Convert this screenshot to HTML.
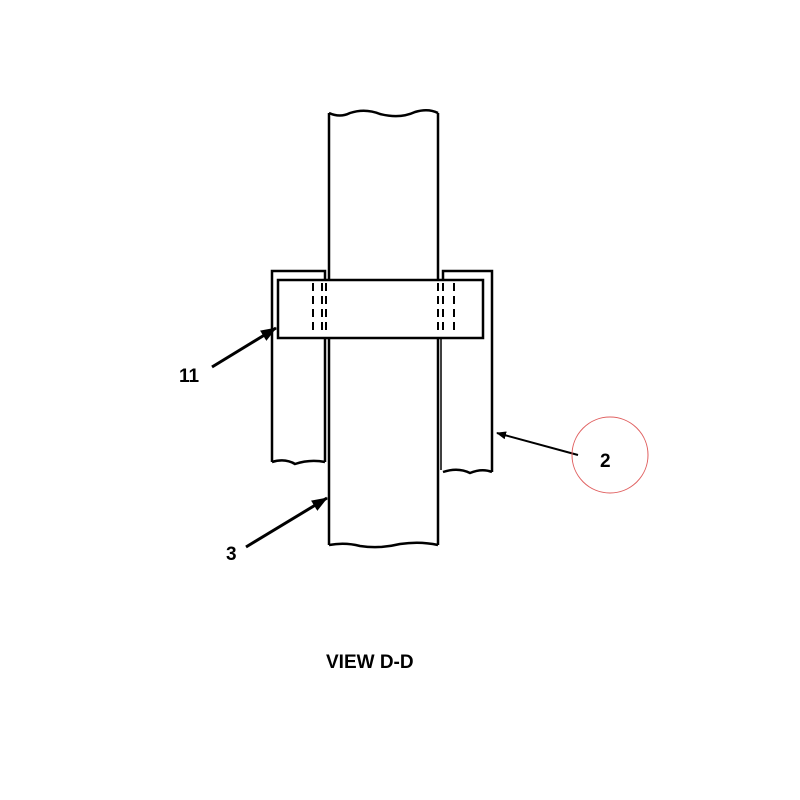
<!DOCTYPE html>
<html><head><style>body{margin:0;background:#fff}svg{display:block}</style></head><body>
<svg width="800" height="800" viewBox="0 0 800 800" xmlns="http://www.w3.org/2000/svg">
<defs><marker id="a" markerWidth="10" markerHeight="8" refX="9" refY="4" orient="auto" markerUnits="userSpaceOnUse"><path d="M0,0 L10,4 L0,8 Z" fill="#000"/></marker>
<marker id="b" markerWidth="16" markerHeight="12" refX="15" refY="6" orient="auto" markerUnits="userSpaceOnUse"><path d="M0,0 L16,6 L0,12 Z" fill="#000"/></marker></defs>
<g fill="none" stroke="#000" stroke-width="2.5">
<path d="M329,113 Q340,118 350,113 Q365,108 380,114 Q400,119 415,112 Q428,108 438,113"/>
<line x1="329" y1="113" x2="329" y2="280"/>
<line x1="438" y1="113" x2="438" y2="280"/>
<line x1="329" y1="338" x2="329" y2="545"/>
<line x1="438" y1="338" x2="438" y2="545"/>
<line x1="441" y1="338" x2="441" y2="470" stroke-width="1.5"/>
<path d="M329,545 Q345,542 360,546 Q380,549 400,544 Q420,541 438,545"/>
<path d="M272,462 L272,271 L325,271 L325,280"/>
<path d="M443,280 L443,271 L492,271 L492,472"/>
<path d="M272,462 Q285,458 295,464 Q310,459 325,462"/>
<path d="M443,472 Q458,467 470,473 Q482,468 492,472"/>
<line x1="325" y1="338" x2="325" y2="462"/>
<rect x="278" y="280" width="205" height="58"/>
</g>
<g stroke="#000" stroke-width="2" stroke-dasharray="8,5">
<line x1="313" y1="283" x2="313" y2="335"/>
<line x1="322" y1="283" x2="322" y2="335"/>
<line x1="326" y1="283" x2="326" y2="335"/>
<line x1="438" y1="283" x2="438" y2="335"/>
<line x1="443" y1="283" x2="443" y2="335"/>
<line x1="454" y1="283" x2="454" y2="335"/>
</g>
<g stroke="#000" stroke-width="3">
<line x1="212" y1="367" x2="276" y2="328" marker-end="url(#b)"/>
<line x1="246" y1="547" x2="327" y2="498" marker-end="url(#b)"/>
<line x1="578" y1="455" x2="497" y2="433" stroke-width="2" marker-end="url(#a)"/>
</g>
<circle cx="610" cy="455" r="38" fill="none" stroke="#e06060" stroke-width="1"/>
<g font-family="Liberation Sans, sans-serif" font-weight="bold" font-size="19" fill="#000">
<text x="179" y="382">11</text>
<text x="226" y="560">3</text>
<text x="600" y="467">2</text>
<text x="326" y="668">VIEW D-D</text>
</g>
</svg>
</body></html>
